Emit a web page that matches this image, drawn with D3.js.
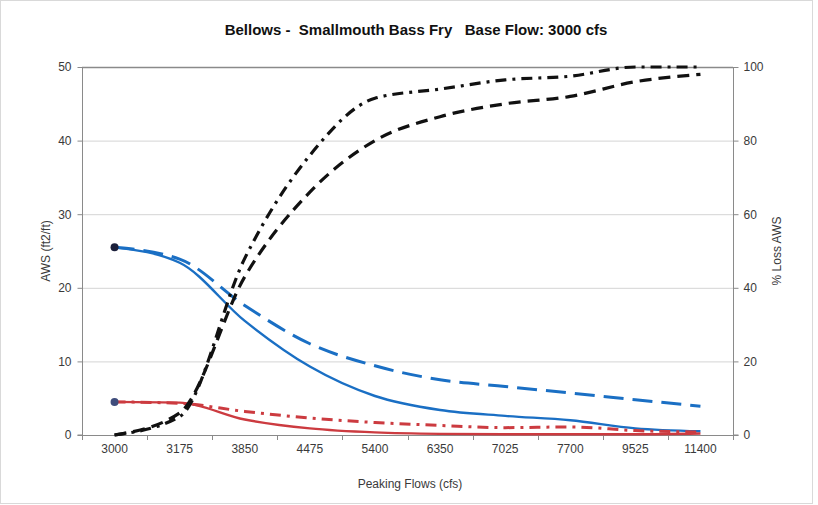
<!DOCTYPE html>
<html>
<head>
<meta charset="utf-8">
<script src="https://cdn.jsdelivr.net/npm/d3@7"></script>
<style>
  html, body { margin: 0; padding: 0; background: #fff; }
  svg { display: block; font-family: "Liberation Sans", Arial, sans-serif; }
</style>
</head>
<body>
<svg id="chart" width="818" height="505"></svg>
<script>
// ---- Data ----
const categories = ["3000", "3175", "3850", "4475", "5400", "6350", "7025", "7700", "9525", "11400"];
const awsBlueSolid    = [25.5, 23.4, 15.5, 9.3, 5.3, 3.4, 2.6, 2.0, 0.9, 0.5];
const awsBlueDashed   = [25.5, 23.9, 17.6, 12.4, 9.4, 7.5, 6.6, 5.7, 4.8, 3.9];
const awsRedSolid     = [4.5, 4.4, 2.1, 0.9, 0.35, 0.15, 0.1, 0.1, 0.1, 0.2];
const awsRedDashDot   = [4.5, 4.3, 3.2, 2.3, 1.7, 1.3, 1.0, 1.1, 0.6, 0.4];
const lossBlackDashed  = [0, 6, 43, 66, 80, 86.5, 90, 92, 96, 98];
const lossBlackDashDot = [0, 5, 48, 76, 91.5, 94, 96.5, 97.5, 100, 100];
const leftTicks  = [0, 10, 20, 30, 40, 50];
const rightTicks = [0, 20, 40, 60, 80, 100];

const titleText = "Bellows -  Smallmouth Bass Fry   Base Flow: 3000 cfs";
const xTitle = "Peaking Flows (cfs)";
const yLeftTitle = "AWS (ft2/ft)";
const yRightTitle = "% Loss AWS";

// ---- Layout ----
const svg = d3.select("#chart");
const L = 82, R = 733, T = 67, B = 435;

const x = d3.scaleBand().domain(categories).range([L, R]).padding(0);
const cx = c => x(c) + x.bandwidth() / 2;
const yL = d3.scaleLinear().domain([0, 50]).range([B, T]);
const yR = d3.scaleLinear().domain([0, 100]).range([B, T]);

// chart border
svg.append("rect").attr("x", 0.5).attr("y", 0.5).attr("width", 812).attr("height", 503)
  .attr("fill", "none").attr("stroke", "#d9d9d9");

// gridlines
svg.append("g").selectAll("line").data(leftTicks.filter(d => d > 0 && d < 50)).join("line")
  .attr("x1", L).attr("x2", R).attr("y1", d => yL(d) + 0.5).attr("y2", d => yL(d) + 0.5)
  .attr("stroke", "#d4d4d4").attr("stroke-width", 1);
// top line
svg.append("line").attr("x1", L).attr("x2", R).attr("y1", yL(50) + 0.5).attr("y2", yL(50) + 0.5)
  .attr("stroke", "#8a8a8a").attr("stroke-width", 1.3);

// left axis
const leftAxis = d3.axisLeft(yL).tickValues(leftTicks).tickSize(5).tickPadding(6);
const gL = svg.append("g").attr("transform", `translate(${L + 0.5},0)`).call(leftAxis);
// right axis
const rightAxis = d3.axisRight(yR).tickValues(rightTicks).tickSize(5).tickPadding(5);
const gR = svg.append("g").attr("transform", `translate(${R + 0.5},0)`).call(rightAxis);
// bottom axis (labels at centers, no ticks)
const bottomAxis = d3.axisBottom(x).tickSize(0).tickPadding(9);
const gB = svg.append("g").attr("transform", `translate(0,${B + 0.5})`).call(bottomAxis);
// boundary ticks
const bounds = categories.map(c => x(c)).concat([x(categories[categories.length - 1]) + x.bandwidth()]);
svg.append("g").selectAll("line").data(bounds).join("line")
  .attr("x1", d => Math.round(d) + 0.5).attr("x2", d => Math.round(d) + 0.5)
  .attr("y1", B).attr("y2", B + 5).attr("stroke", "#8a8a8a");

[gL, gR, gB].forEach(g => {
  g.select(".domain").attr("stroke", "#8a8a8a").attr("stroke-width", 1);
  g.selectAll(".tick line").attr("stroke", "#8a8a8a");
  g.selectAll(".tick text").attr("fill", "#3a3a3a").style("font-size", "12px")
    .style("font-family", "'Liberation Sans', Arial, sans-serif");
});
gB.select(".domain").attr("d", `M${L},0H${R}`);
gL.select(".domain").attr("d", `M-5,${B}H0V${T}`);
gR.select(".domain").attr("d", `M5,${B}H0V${T}`);

// ---- Lines ----
const lineL = d3.line().x((d, i) => cx(categories[i])).y(d => yL(d)).curve(d3.curveMonotoneX);
const lineR = d3.line().x((d, i) => cx(categories[i])).y(d => yR(d)).curve(d3.curveMonotoneX);

const blue = "#1a6fc4", red = "#cc3b40";

function draw(gen, data, color, width, dash) {
  svg.append("path").datum(data).attr("d", gen)
    .attr("fill", "none").attr("stroke", color).attr("stroke-width", width)
    .attr("stroke-dasharray", dash || null).attr("stroke-linejoin", "round");
}
draw(lineL, awsBlueDashed, blue, 3, "20,9");
draw(lineL, awsBlueSolid, blue, 2.4);
draw(lineL, awsRedDashDot, red, 3, "11,6,3,6");
draw(lineL, awsRedSolid, red, 2.4);
draw(lineR, lossBlackDashed, "#111", 3.2, "12,7");
draw(lineR, lossBlackDashDot, "#111", 3.2, "11,6,3,6");

// markers on first points
svg.append("circle").attr("cx", cx(categories[0])).attr("cy", yL(awsBlueSolid[0])).attr("r", 4)
  .attr("fill", "#1b1f3a");
svg.append("circle").attr("cx", cx(categories[0])).attr("cy", yL(awsRedSolid[0])).attr("r", 4)
  .attr("fill", "#3f4d7c");

// ---- Titles ----
svg.append("text").attr("x", 416).attr("y", 35).attr("text-anchor", "middle")
  .style("font-size", "15px").style("font-weight", "bold").style("white-space", "pre")
  .attr("fill", "#111").text(titleText);
svg.append("text").attr("x", 410).attr("y", 488).attr("text-anchor", "middle")
  .style("font-size", "12px").attr("fill", "#3a3a3a").text(xTitle);
svg.append("text").attr("transform", `translate(50,${(T + B) / 2}) rotate(-90)`)
  .attr("text-anchor", "middle").style("font-size", "12px").attr("fill", "#3a3a3a").text(yLeftTitle);
svg.append("text").attr("transform", `translate(781,${(T + B) / 2}) rotate(-90)`)
  .attr("text-anchor", "middle").style("font-size", "12px").attr("fill", "#3a3a3a").text(yRightTitle);
</script>
</body>
</html>
